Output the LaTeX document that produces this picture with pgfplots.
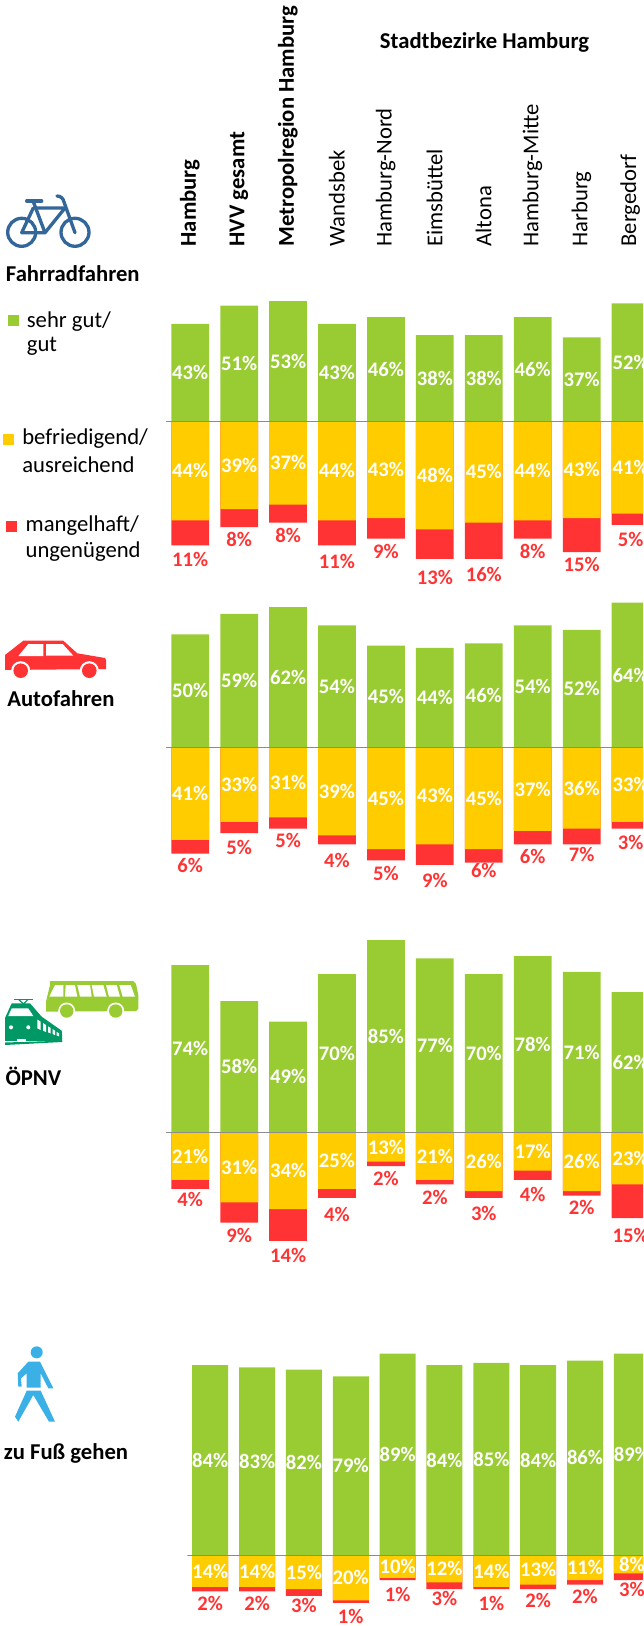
\documentclass[border=0pt]{standalone}
\usepackage{pgfplots}
\usepackage{pgfplotstable}
\usepackage{fontspec}
\setmainfont{Carlito}
\pgfplotsset{compat=1.18}
\definecolor{cg}{HTML}{99CC33}
\definecolor{cy}{HTML}{FFCC00}
\definecolor{cr}{HTML}{FF3333}
\definecolor{cb}{HTML}{336699}
\definecolor{cp}{HTML}{3BB0E6}
\definecolor{ct}{HTML}{009966}
\definecolor{cl}{HTML}{8C8C8C}

\pgfplotstableread{
x g y r rl
0 43 44 11 -61.4
1 51 39 8 -52.5
2 53 37 8 -50.7
3 43 44 11 -62.2
4 46 43 9 -57.7
5 38 48 13 -69.3
6 38 45 16 -68.0
7 46 44 8 -57.7
8 37 43 15 -63.6
9 52 41 5 -52.5
}\dataA
\pgfplotstableread{
x g y r rl
0 50 41 6 -52.1
1 59 33 5 -44.2
2 62 31 5 -41.4
3 54 39 4 -50.1
4 45 45 5 -56.0
5 44 43 9 -59.1
6 46 45 6 -54.6
7 54 37 6 -48.4
8 52 36 7 -47.6
9 64 33 3 -42.2
}\dataB
\pgfplotstableread{
x g y r rl
0 74 21 4 -29.6
1 58 31 9 -45.7
2 49 34 14 -54.6
3 70 25 4 -36.4
4 85 13 2 -20.4
5 77 21 2 -28.9
6 70 26 3 -36.1
7 78 17 4 -27.7
8 71 26 2 -33.3
9 62 23 15 -45.7
}\dataC
\pgfplotstableread{
x g y r rl
0 84 14 2 -21.2
1 83 14 2 -21.2
2 82 15 3 -22.4
3 79 20 1 -27.1
4 89 10 1 -17.3
5 84 12 3 -19.3
6 85 14 1 -21.2
7 84 13 2 -20.2
8 86 11 2 -18.0
9 89 8 3 -15.3
}\dataD

\pgfplotsset{
  panel/.style={scale only axis, clip=true, enlargelimits=false,
    axis line style={draw=none}, tick style={draw=none},
    ytick=\empty, xtick=\empty, anchor=north west},
  labelplot/.style={only marks, mark=*, mark size=0pt, mark options={draw=none,fill=none},
    point meta=explicit,
    nodes near coords={\pgfmathprintnumber[assume math mode=true]{\pgfplotspointmeta}\%},
    nodes near coords align={center},
    every node near coord/.append style={font=\fontsize{15.5pt}{15.5pt}\selectfont\bfseries, inner sep=0pt, anchor=center, text=#1}},
}
\newcommand{\panelbars}[2]{%
  \addplot[ybar, bar width=#2, bar shift=0pt, fill=cr, draw=none] table[x=x, y expr=-\thisrow{y}-\thisrow{r}] {#1};
  \addplot[ybar, bar width=#2, bar shift=0pt, fill=cy, draw=none] table[x=x, y expr=-\thisrow{y}] {#1};
  \addplot[ybar, bar width=#2, bar shift=0pt, fill=cg, draw=none] table[x=x, y=g] {#1};
  \addplot[labelplot=white] table[x=x, y expr=\thisrow{g}/2, meta=g] {#1};
  \addplot[labelplot=white] table[x=x, y expr=-\thisrow{y}/2, meta=y] {#1};
  \addplot[labelplot=cr] table[x=x, y=rl, meta=r] {#1};
  \draw[cl, line width=0.75pt] (axis cs:\pgfkeysvalueof{/pgfplots/xmin},0) -- (axis cs:\pgfkeysvalueof{/pgfplots/xmax},0);
}
\begin{document}
\begin{tikzpicture}
\path[use as bounding box] (0,0) rectangle (643*0.75pt,-1626*0.75pt);

% panel 1
\begin{axis}[panel, at={(165.6*0.75pt,-245*0.75pt)}, width=477.4*0.75pt, height=345*0.75pt,
  xmin=-0.5028, xmax=9.254, ymin=-74.78, ymax=77.88,
  xtick={0,...,9}, xticklabel pos=upper,
  xticklabels={\textbf{Hamburg},\textbf{HVV gesamt},\textbf{Metropolregion Hamburg},Wandsbek,Hamburg-Nord,Eimsbüttel,Altona,Hamburg-Mitte,Harburg,Bergedorf},
  xticklabel style={xshift=-0.2pt, yshift=-1.3pt, rotate=90, anchor=west, inner sep=0pt, font=\fontsize{17pt}{17pt}\selectfont}]
\panelbars{\dataA}{28.3pt}
\end{axis}
% panel 2
\begin{axis}[panel, at={(165.6*0.75pt,-600*0.75pt)}, width=477.4*0.75pt, height=290*0.75pt,
  xmin=-0.5028, xmax=9.254, ymin=-63.14, ymax=65.18]
\panelbars{\dataB}{28.3pt}
\end{axis}
% panel 3
\begin{axis}[panel, at={(165.6*0.75pt,-930*0.75pt)}, width=477.4*0.75pt, height=350*0.75pt,
  xmin=-0.5028, xmax=9.254, ymin=-65.35, ymax=89.51]
\panelbars{\dataC}{28.3pt}
\end{axis}
% panel 4
\begin{axis}[panel, at={(187.3*0.75pt,-1340*0.75pt)}, width=455.7*0.75pt, height=286*0.75pt,
  xmin=-0.4888, xmax=9.238, ymin=-31.28, ymax=95.05]
\panelbars{\dataD}{27pt}
\end{axis}

\begin{scope}[x=0.75pt,y=-0.75pt]
\tikzset{t/.style={anchor=west, inner sep=0pt, font=\fontsize{17pt}{17pt}\selectfont},
         tb/.style={anchor=west, inner sep=0pt, font=\fontsize{17pt}{17pt}\selectfont\bfseries}}
% texts
\node[tb,anchor=center] at (484.5,42) {Stadtbezirke Hamburg};
\node[tb] at (5.7,274) {Fahrradfahren};
\node[tb] at (7,699) {Autofahren};
\node[tb] at (5.3,1076) {ÖPNV};
\node[tb] at (3.7,1453) {zu Fuß gehen};
% legend
\fill[cg] (8.2,315) rectangle (18.9,326);
\node[t] at (26.6,321.7) {sehr gut/};
\node[t] at (26.6,346.7) {gut};
\fill[cy] (2.9,434) rectangle (14,445);
\node[t] at (22,439) {befriedigend/};
\node[t] at (22,465) {ausreichend};
\fill[cr] (6,521) rectangle (17,532);
\node[t] at (25.4,526) {mangelhaft/};
\node[t] at (25.4,551.7) {ungenügend};
% bicycle
\begin{scope}[cb, line width=2.5pt, line cap=round, line join=round]
\draw (21.7,232.3) circle (14);
\draw (75,232.3) circle (14);
\draw (26.7,201) -- (41.7,201);
\draw (33.3,201.7) -- (45,232.7);
\draw (33.3,208) -- (21.7,232.7) -- (45,232.7) -- (65,208) -- (35,208);
\draw (75,232.7) -- (64,202) to[out=100,in=0] (57,196);
\end{scope}
% car
\fill[cr] (5,655) -- (23.3,640.7) -- (63.3,640.7) -- (77.3,653.3) -- (105,658) -- (106,660) -- (106,669) -- (5,670) -- cycle;
\fill[white] (18.3,656) -- (28.3,644) -- (43.3,644) -- (43.3,656) -- cycle;
\fill[white] (46,644) -- (62.7,644) -- (73.3,655.7) -- (46,655.7) -- cycle;
\foreach \c in {20.7,89.3}{\fill[white] (\c,670.7) circle (9.5); \fill[cr] (\c,670.7) circle (7.3);}
% bus
\fill[cg] (50,981) -- (133.3,981) -- (136,984) -- (138.3,995) -- (138.3,1009) -- (136,1011) -- (46,1011.7) -- (46,1001.7) -- (50,985) -- cycle;
\fill[white] (55,985) -- (63.3,985) -- (63.3,996.7) -- (49.3,996.7) -- cycle;
\fill[white] (65.7,985) -- (75,985) -- (77.3,996.7) -- (65,996.7) -- cycle;
\fill[white] (77.3,985) -- (90,985) -- (91.7,996.7) -- (80,996.7) -- cycle;
\fill[white] (91.7,985) -- (103.3,985) -- (106.7,996.7) -- (94,996.7) -- cycle;
\fill[white] (106,985) -- (116.7,985) -- (120,996.7) -- (109,996.7) -- cycle;
\fill[white] (119.3,985) -- (130.7,985) -- (135,996.7) -- (122.7,996.7) -- cycle;
\foreach \c in {66.7,115.7}{\fill[white] (\c,1011) circle (8.5); \fill[cg] (\c,1011) circle (6.7);}
% train
\fill[ct] (5,1018) -- (11.7,1003.3) -- (30,1003.3) -- (41.7,1016.7) -- (61.7,1030.7) -- (62.3,1039.3) -- (5,1038.3) -- cycle;
\fill[white] (8.3,1016) -- (11.7,1008.3) -- (28.3,1008.3) -- (33.3,1016) -- cycle;
\fill[white] (11,1027.3) circle (2); \fill[white] (28.3,1027.3) circle (2);
\fill[white] (37.3,1019.5) -- (40.7,1021.7) -- (40.7,1030) -- (37.3,1028.3) -- cycle;
\fill[white] (43,1023) -- (46,1025) -- (46,1032) -- (43,1030.5) -- cycle;
\fill[white] (48,1026.3) -- (50.7,1028) -- (50.7,1033.5) -- (48,1032.3) -- cycle;
\fill[white] (52.5,1029) -- (55,1030.7) -- (55,1035) -- (52.5,1034) -- cycle;
\fill[white] (56.7,1032) -- (59,1033.3) -- (59,1036.3) -- (56.7,1035.5) -- cycle;
\draw[ct, line width=0.9pt] (14,999.3) -- (33.3,999.3);
\draw[ct, line width=0.9pt] (18.5,999.3) -- (23.5,1004) -- (28,999.3);
\fill[ct] (5,1042.5) -- (62.3,1040.7) -- (62.3,1042) -- (5,1045) -- cycle;
\fill[ct] (5,1038) rectangle (62.3,1040.7);
\fill[white] (16.7,1039.3) rectangle (26,1042);
% pedestrian
\fill[cp] (36.7,1352.3) circle (6);
\fill[cp] (17.7,1373.3) -- (28.3,1361.7) -- (40,1361.7) -- (53.3,1388.3) -- (48.3,1388.3) -- (40.7,1373.3) -- (40.7,1387.7) -- (26.7,1387.7) -- (26.7,1373.3) -- (21,1378.3) -- (21.7,1386.7) -- (18.3,1386.7) -- cycle;
\fill[cp] (26.7,1390.7) -- (40.7,1390.7) -- (55,1421.7) -- (49,1421.7) -- (33.3,1395) -- (18.3,1421.7) -- (15,1416.7) -- cycle;
\end{scope}
\end{tikzpicture}
\end{document}
